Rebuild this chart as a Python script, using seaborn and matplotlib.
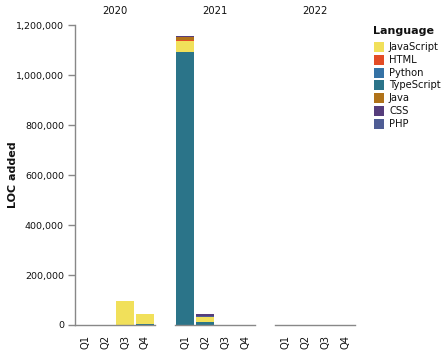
import matplotlib
matplotlib.use("Agg")
import matplotlib.pyplot as plt
from matplotlib.patches import Rectangle
from matplotlib.ticker import FuncFormatter
import seaborn as sns
import pandas as pd
import numpy as np

years = ["2020", "2021", "2022"]
quarters = ["Q1", "Q2", "Q3", "Q4"]

# legend order
legend_langs = ["JavaScript", "HTML", "Python", "TypeScript", "Java", "CSS", "PHP"]
colors = {
    "JavaScript": "#f1e05a",
    "HTML": "#e34c26",
    "Python": "#3572A5",
    "TypeScript": "#2b7489",
    "Java": "#b07219",
    "CSS": "#563d7c",
    "PHP": "#4F5D95",
}
# stack order, bottom to top
stack_langs = ["TypeScript", "Python", "JavaScript", "HTML", "Java", "PHP", "CSS"]

# values per language: 2020 Q1..Q4, 2021 Q1..Q4, 2022 Q1..Q4
TypeScript = [0, 0, 0, 5000, 1092000, 11000, 0, 0, 0, 0, 0, 0]
Python =     [0, 0, 0, 0, 2000, 1000, 0, 0, 0, 0, 0, 0]
JavaScript = [0, 0, 95000, 40000, 44000, 20000, 0, 0, 0, 0, 0, 0]
HTML =       [0, 0, 1000, 0, 1500, 0, 0, 0, 0, 0, 0, 0]
Java =       [0, 0, 0, 0, 11000, 1000, 0, 0, 0, 0, 0, 0]
PHP =        [0, 0, 0, 0, 1000, 2000, 0, 0, 0, 0, 0, 0]
CSS =        [0, 0, 0, 0, 4500, 9000, 0, 0, 0, 0, 0, 0]

values = {"TypeScript": TypeScript, "Python": Python, "JavaScript": JavaScript,
          "HTML": HTML, "Java": Java, "PHP": PHP, "CSS": CSS}

rows = []
for lang in stack_langs:
    for i, v in enumerate(values[lang]):
        rows.append({"year": years[i // 4], "quarter": quarters[i % 4],
                     "lang": lang, "loc": v})
df = pd.DataFrame(rows)
df["lang"] = pd.Categorical(df["lang"], stack_langs, ordered=True)
df = df.sort_values(["year", "quarter", "lang"])
df["cum"] = df.groupby(["year", "quarter"])["loc"].cumsum()

sns.set_style("white")
plt.rcParams["font.family"] = ["DejaVu Sans"]

W, H = 445, 351
fig = plt.figure(figsize=(W / 100, H / 100), dpi=100)

def fx(px):
    return px / W

def fy(py):
    return 1 - py / H

axis_col = "#888888"
text_col = "#111111"
fs = 6.8

for k, yr in enumerate(years):
    left = 75 + 100 * k
    ax = fig.add_axes([fx(left), fy(325), fx(80), 300 / H])
    sub = df[df["year"] == yr]
    for lang in reversed(stack_langs):
        d = sub[sub["lang"] == lang]
        sns.barplot(data=d, x="quarter", y="cum", order=quarters,
                    color=colors[lang], saturation=1, width=0.9,
                    linewidth=0, ax=ax, errorbar=None)
    ax.set_xlim(-0.5, 3.5)
    ax.set_ylim(0, 1200000)
    ax.set_xlabel("")
    ax.set_ylabel("")
    ax.set_title(yr, fontsize=7.2, color=text_col, pad=8)
    for s in ["top", "right"]:
        ax.spines[s].set_visible(False)
    ax.spines["bottom"].set_color(axis_col)
    ax.spines["bottom"].set_linewidth(1)
    ax.tick_params(axis="x", colors=axis_col, labelcolor=text_col, length=5,
                   width=1, labelsize=7.2, labelrotation=90, pad=2)
    if k == 0:
        ax.spines["left"].set_color(axis_col)
        ax.spines["left"].set_linewidth(1)
        ax.set_yticks(np.arange(0, 1200001, 200000))
        ax.yaxis.set_major_formatter(FuncFormatter(lambda v, p: f"{int(v):,}"))
        ax.tick_params(axis="y", colors=axis_col, labelcolor=text_col, length=5,
                       width=1, labelsize=fs, pad=3, left=True)
        ax.set_ylabel("LOC added", fontsize=8, fontweight="bold", color=text_col)
        ax.yaxis.set_label_coords((18 - 75) / 80, 0.5)
    else:
        ax.spines["left"].set_visible(False)
        ax.set_yticks([])

# legend
fig.text(fx(373), fy(31), "Language", fontsize=8, fontweight="bold",
         color=text_col, ha="left", va="center")
for i, lang in enumerate(legend_langs):
    cy = 46.7 + 12.93 * i
    fig.add_artist(Rectangle((fx(374), fy(cy + 5)), fx(10), 10 / H,
                             facecolor=colors[lang], edgecolor="none",
                             transform=fig.transFigure))
    fig.text(fx(389), fy(cy), lang, fontsize=7.2, color=text_col,
             ha="left", va="center")

fig.savefig("out.png", dpi=100)
